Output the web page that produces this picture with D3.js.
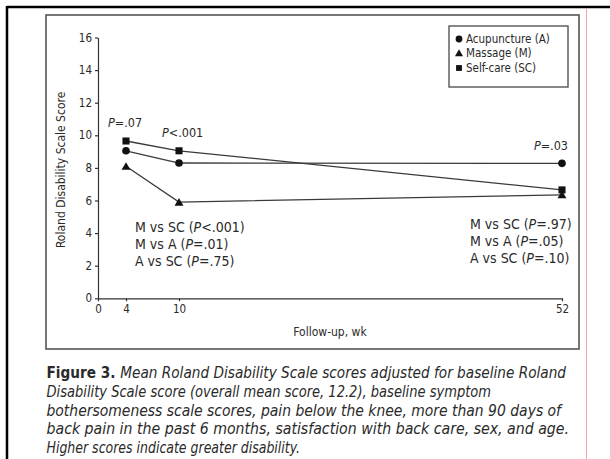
<!DOCTYPE html>
<html><head><meta charset="utf-8">
<script src="https://cdn.jsdelivr.net/npm/d3@7/dist/d3.min.js"></script>
<style>
html,body{margin:0;padding:0;background:#fff;}
svg text{font-family:"Liberation Sans Narrow","DejaVu Sans Condensed","Arial Narrow",sans-serif;fill:#2a2a2a;}
</style></head>
<body>
<svg id="c" width="610" height="459"></svg>
<script>
// ---- data ----
const weeks = [4, 10, 52];
const xTicks = [0, 4, 10, 52];
const yTicks = [0, 2, 4, 6, 8, 10, 12, 14, 16];
const acupuncture = [9.05, 8.3, 8.28];
const massage = [8.1, 5.9, 6.35];
const selfcare = [9.65, 9.05, 6.65];
const seriesNames = ["Acupuncture (A)", "Massage (M)", "Self-care (SC)"];
const seriesSymbols = ["circle", "triangle", "square"];
const pLabels = [["P", "=.07"], ["P", "<.001"], ["P", "=.03"]];
const leftBlock = [["M vs SC (", "P", "<.001)"], ["M vs A (", "P", "=.01)"], ["A vs SC (", "P", "=.75)"]];
const rightBlock = [["M vs SC (", "P", "=.97)"], ["M vs A (", "P", "=.05)"], ["A vs SC (", "P", "=.10)"]];
const captionLines = [
  "Mean Roland Disability Scale scores adjusted for baseline Roland",
  "Disability Scale score (overall mean score, 12.2), baseline symptom",
  "bothersomeness scale scores, pain below the knee, more than 90 days of",
  "back pain in the past 6 months, satisfaction with back care, sex, and age.",
  "Higher scores indicate greater disability."
];
const captionEnds = [566, 491, 561, 569, 300];

const svg = d3.select("#c");

// outer frame
svg.append("line").attr("x1",7).attr("x2",610).attr("y1",7).attr("y2",7).attr("stroke","#000").attr("stroke-width",2.5);
svg.append("line").attr("x1",7).attr("x2",7).attr("y1",6).attr("y2",459).attr("stroke","#000").attr("stroke-width",2.5);
svg.append("line").attr("x1",586.5).attr("x2",586.5).attr("y1",8).attr("y2",459).attr("stroke","#f3a5a5").attr("stroke-width",1);
// panel frame
svg.append("rect").attr("x",46).attr("y",15).attr("width",533).attr("height",334)
  .attr("fill","none").attr("stroke","#555").attr("stroke-width",1.6);

// scales
const x = d3.scaleLinear().domain([0, 4, 10, 52]).range([98, 126, 179, 562]);
const y = d3.scaleLinear().domain([0, 16]).range([298.3, 37.5]);

const fs = "11.5px";
const yAxis = svg.append("g").attr("transform", `translate(${x(0)},0)`)
  .call(d3.axisLeft(y).tickValues(yTicks).tickSize(3).tickSizeOuter(0).tickPadding(3));
yAxis.selectAll("text").style("font-size", fs);
const xAxis = svg.append("g").attr("transform", `translate(0,${y(0)})`)
  .call(d3.axisBottom(x).tickValues(xTicks).tickSize(3).tickSizeOuter(0).tickPadding(4));
xAxis.selectAll("text").style("font-size", fs);
svg.selectAll(".domain, .tick line").attr("stroke", "#333").attr("stroke-width", 1.2);

// axis titles
svg.append("text").attr("transform", `translate(61,${(y(0)+y(16))/2 + 2}) rotate(-90)`)
  .attr("text-anchor","middle").attr("dominant-baseline","middle").style("font-size","12px")
  .text("Roland Disability Scale Score");
svg.append("text").attr("x", (x(0)+x(52))/2).attr("y", 336).attr("text-anchor","middle")
  .style("font-size","12px").text("Follow-up, wk");

// series
const series = [acupuncture, massage, selfcare];
const symMap = {circle: d3.symbolCircle, triangle: d3.symbolTriangle, square: d3.symbolSquare};
const symSize = {circle: 46, triangle: 34, square: 50};
const line = d3.line().x((d,i)=>x(weeks[i])).y(d=>y(d));
series.forEach((s, k) => {
  svg.append("path").datum(s).attr("d", line).attr("fill","none")
    .attr("stroke","#3a3a3a").attr("stroke-width",1.3);
});
series.forEach((s, k) => {
  svg.selectAll(null).data(s).enter().append("path")
    .attr("transform", (d,i)=>`translate(${x(weeks[i])},${y(d) + (seriesSymbols[k]==="triangle"?1:0)})`)
    .attr("d", d3.symbol().type(symMap[seriesSymbols[k]]).size(symSize[seriesSymbols[k]]))
    .attr("fill","#111");
});

// legend
const lg = svg.append("g");
lg.append("rect").attr("x",449).attr("y",26).attr("width",119).attr("height",61)
  .attr("fill","#fff").attr("stroke","#555").attr("stroke-width",1.4);
seriesNames.forEach((n,i)=>{
  const yy = 39 + i*14.5;
  const t = seriesSymbols[i];
  lg.append("path").attr("transform",`translate(459,${yy + (t==="triangle"?0.5:0)})`)
    .attr("d", d3.symbol().type(symMap[t]).size({circle:36,triangle:28,square:34}[t])).attr("fill","#111");
  lg.append("text").attr("x",466).attr("y",yy).attr("dominant-baseline","middle")
    .style("font-size","11.5px").text(n);
});

// annotations
function pText(xx, yy, parts, anchor, size){
  const t = svg.append("text").attr("x",xx).attr("y",yy).attr("text-anchor",anchor||"start").style("font-size",size||"12px");
  parts.forEach((p)=>{
    const ts = t.append("tspan").text(p);
    if (p === "P") ts.style("font-style","italic");
  });
  return t;
}
pText(108, 127, pLabels[0], "start", "12.5px");
pText(162, 137, pLabels[1], "start", "12.5px");
pText(568, 150, pLabels[2], "end", "12.5px");
leftBlock.forEach((l,i)=>pText(135, 232 + i*16.8, l, "start", "14px"));
rightBlock.forEach((l,i)=>pText(470, 229 + i*16.8, l, "start", "14px"));

// caption
const cap = svg.append("g");
captionLines.forEach((l,i)=>{
  const t = cap.append("text").attr("x",46.5).attr("y",378 + i*18.8).style("font-size","15px")
    .attr("textLength", captionEnds[i] - 46.5).attr("lengthAdjust","spacingAndGlyphs");
  if (i===0){
    t.append("tspan").style("font-weight","bold").text("Figure 3. ");
  }
  t.append("tspan").style("font-style","italic").text(l);
});
</script>
</body></html>
